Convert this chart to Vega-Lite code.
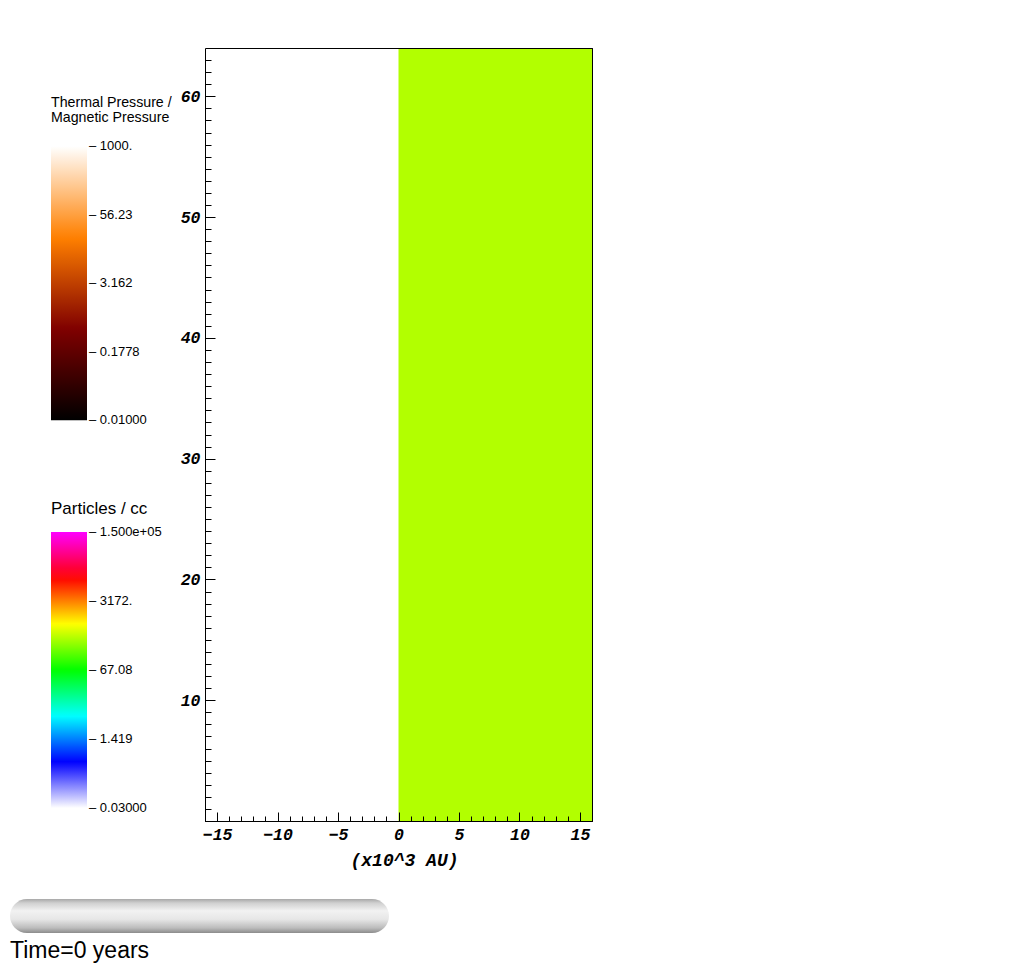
{
  "$schema": "https://vega.github.io/schema/vega-lite/v6.json",
  "width": 387,
  "height": 773,
  "autosize": {"type": "none"},
  "padding": {"left": 205, "top": 48, "right": 435, "bottom": 146},
  "background": "white",
  "config": {
    "view": {"stroke": "black", "strokeWidth": 1},
    "axis": {
      "domainColor": "black", "tickColor": "black", "labelColor": "black", "titleColor": "black",
      "labelFont": "Liberation Mono", "labelFontSize": 16.5, "labelFontWeight": "bold", "labelFontStyle": "italic",
      "titleFont": "Liberation Mono", "titleFontSize": 18, "titleFontWeight": "bold", "titleFontStyle": "italic",
      "grid": false, "tickWidth": 1, "domainWidth": 1, "labelOverlap": false, "labelFlush": false
    },
    "legend": {
      "titleFont": "Liberation Sans", "titleFontWeight": "normal", "titleColor": "black",
      "labelFont": "Liberation Sans", "labelFontSize": 13, "labelColor": "black",
      "padding": 0, "gradientStrokeWidth": 0, "gradientThickness": 36,
      "direction": "vertical", "orient": "none", "labelOverlap": false
    }
  },
  "layer": [
    {
      "data": {"values": [
        {"x_start": -16, "x_end": 0, "y_start": 0, "y_end": 64, "density": 0.03},
        {"x_start": 0, "x_end": 16, "y_start": 0, "y_end": 64, "density": 405}
      ]},
      "layer": [
        {
          "mark": {"type": "rect"},
          "encoding": {
            "x": {
              "field": "x_start", "type": "quantitative",
              "scale": {"domain": [-16, 16], "nice": false, "zero": false},
              "axis": {
                "orient": "bottom",
                "zindex": 1,
                "title": "(x10^3 AU)",
                "titleX": 199,
                "values": [-16,-15,-14,-13,-12,-11,-10,-9,-8,-7,-6,-5,-4,-3,-2,-1,0,1,2,3,4,5,6,7,8,9,10,11,12,13,14,15,16],
                "labelExpr": "datum.value % 5 === 0 ? datum.label : ''",
                "tickSize": {"condition": {"test": "datum.value % 5 === 0", "value": -9}, "value": -5},
                "labelPadding": 14,
                "titlePadding": 5
              }
            },
            "x2": {"field": "x_end"},
            "y": {
              "field": "y_start", "type": "quantitative",
              "scale": {"domain": [0, 64], "nice": false, "zero": false},
              "axis": {
                "orient": "left",
                "zindex": 1,
                "title": null,
                "values": [0,1,2,3,4,5,6,7,8,9,10,11,12,13,14,15,16,17,18,19,20,21,22,23,24,25,26,27,28,29,30,31,32,33,34,35,36,37,38,39,40,41,42,43,44,45,46,47,48,49,50,51,52,53,54,55,56,57,58,59,60,61,62,63],
                "labelExpr": "datum.value % 10 === 0 && datum.value > 0 ? datum.label : ''",
                "tickSize": {"condition": {"test": "datum.value % 10 === 0", "value": -10}, "value": -6},
                "labelPadding": 15
              }
            },
            "y2": {"field": "y_end"},
            "color": {
              "field": "density", "type": "quantitative",
              "scale": {
                "type": "log",
                "domain": [0.029999, 0.392, 5.13, 67.08, 877, 11470, 150001],
                "range": ["#ffffff", "#0000ff", "#00ffff", "#00ff00", "#ffff00", "#ff0000", "#ff00ff"],
                "interpolate": "rgb"
              },
              "legend": {
                "title": "Particles / cc",
                "titleFontSize": 17,
                "titlePadding": 14,
                "gradientLength": 276,
                "values": [0.03, 1.419, 67.08, 3172, 150000],
                "labelExpr": "'– ' + (datum.value >= 100000 ? '1.500e+05' : datum.value >= 3000 ? '3172.' : datum.value >= 60 ? '67.08' : datum.value >= 1 ? '1.419' : '0.03000')",
                "labelOffset": 2,
                "legendX": -154,
                "legendY": 453
              }
            }
          }
        },
        {
          "mark": {"type": "rect", "opacity": 0},
          "encoding": {
            "x": {
              "field": "x_start", "type": "quantitative",
              "axis": {"orient": "top", "zindex": 1, "title": null, "labels": false, "ticks": false, "domain": true}
            },
            "x2": {"field": "x_end"},
            "y": {
              "field": "y_start", "type": "quantitative",
              "axis": {"orient": "right", "zindex": 1, "title": null, "labels": false, "ticks": false, "domain": true}
            },
            "y2": {"field": "y_end"}
          }
        }
      ],
      "resolve": {"axis": {"x": "independent", "y": "independent"}}
    },
    {
      "data": {"values": [{"pressure_ratio": 0.01}, {"pressure_ratio": 1000}]},
      "mark": {"type": "point", "size": 0, "opacity": 1, "filled": true, "strokeWidth": 0},
      "encoding": {
        "color": {
          "field": "pressure_ratio", "type": "quantitative",
          "scale": {
            "type": "log",
            "domain": [0.009999, 0.4642, 21.54, 1000.01],
            "range": ["#000000", "#800000", "#ff8000", "#ffffff"],
            "interpolate": "rgb"
          },
          "legend": {
            "title": ["Thermal Pressure /", "Magnetic Pressure"],
            "titleFontSize": 14.2,
            "titleLineHeight": 15,
            "titlePadding": 21,
            "gradientLength": 274,
            "values": [0.01, 0.1778, 3.162, 56.23, 1000],
            "labelExpr": "'– ' + (datum.value >= 999 ? '1000.' : datum.value >= 50 ? '56.23' : datum.value >= 3 ? '3.162' : datum.value >= 0.1 ? '0.1778' : '0.01000')",
            "labelOffset": 2,
            "legendX": -154,
            "legendY": 48
          }
        }
      }
    },
    {
      "data": {"values": [{"start": 0, "end": 1, "label": "Time=0 years"}]},
      "encoding": {
        "x": {"field": "start", "type": "quantitative", "scale": {"domain": [0, 1], "range": [-195, 184], "nice": false, "zero": false}, "axis": null},
        "y": {"field": "start", "type": "quantitative", "scale": {"domain": [0, 1], "range": [851, 885], "nice": false, "zero": false}, "axis": null}
      },
      "layer": [
        {
          "mark": {
            "type": "rect", "cornerRadius": 17,
            "fill": {
              "gradient": "linear", "x1": 0, "y1": 0, "x2": 0, "y2": 1,
              "stops": [
                {"offset": 0, "color": "#a8a8a8"},
                {"offset": 0.12, "color": "#d0d0d0"},
                {"offset": 0.35, "color": "#f2f2f2"},
                {"offset": 0.6, "color": "#e6e6e6"},
                {"offset": 0.85, "color": "#bcbcbc"},
                {"offset": 1, "color": "#8c8c8c"}
              ]
            }
          },
          "encoding": {"x2": {"field": "end"}, "y2": {"field": "end"}}
        },
        {
          "mark": {"type": "text", "align": "left", "baseline": "alphabetic", "dy": 25, "font": "Liberation Sans", "fontSize": 23, "color": "black"},
          "encoding": {
            "y": {"field": "end", "type": "quantitative"},
            "text": {"field": "label"}
          }
        }
      ]
    }
  ],
  "resolve": {
    "scale": {"x": "independent", "y": "independent", "color": "independent"},
    "axis": {"x": "independent", "y": "independent"}
  }
}
